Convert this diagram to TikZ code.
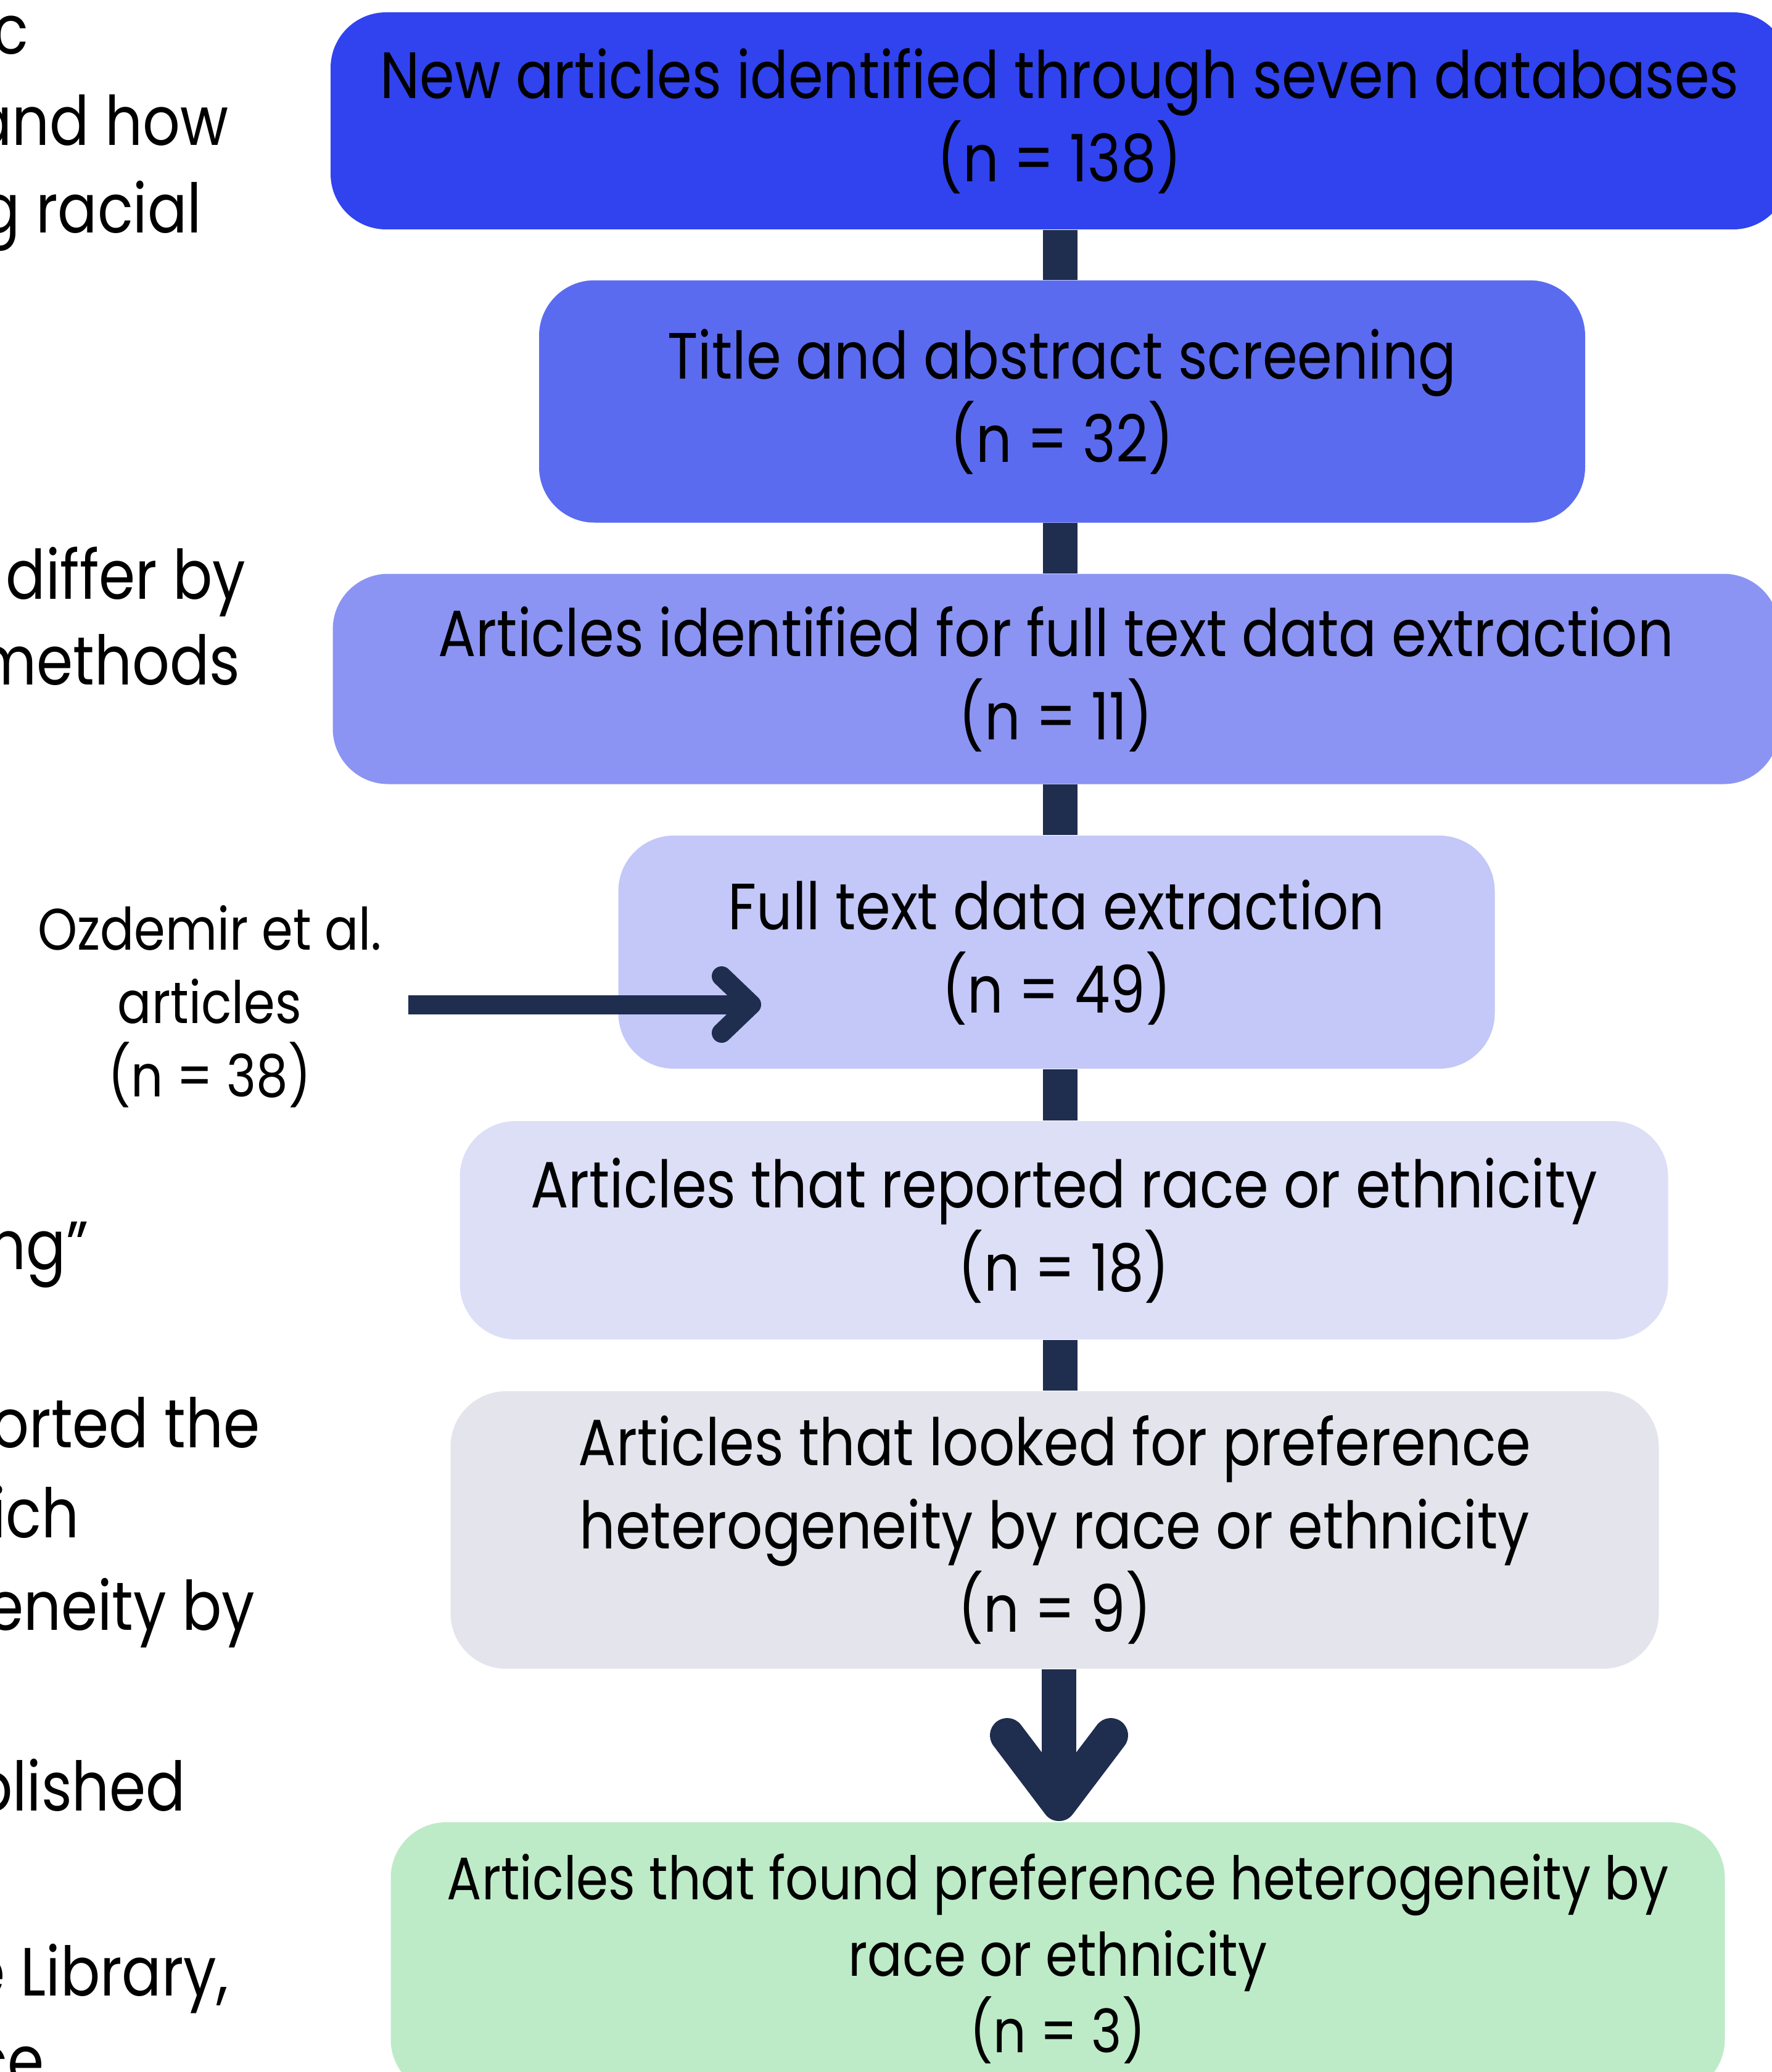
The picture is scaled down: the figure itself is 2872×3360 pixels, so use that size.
\documentclass[tikz,border=0pt]{standalone}
\usepackage{fontspec}
\setmainfont{Poppins}[FakeStretch=0.86]
\definecolor{cA}{HTML}{3043EF}
\definecolor{cB}{HTML}{5B6BF0}
\definecolor{cC}{HTML}{8B94F3}
\definecolor{cD}{HTML}{C3C8F8}
\definecolor{cE}{HTML}{DDDFF7}
\definecolor{cF}{HTML}{E4E4EC}
\definecolor{cG}{HTML}{BDEBC7}
\definecolor{arr}{HTML}{1F2D4F}
\begin{document}
\begin{tikzpicture}[x=0.1mm,y=-0.1mm,
  box/.style={rectangle, rounded corners=9mm, inner sep=0pt, align=center, text=black,
    font=\fontsize{30.2}{38.4}\selectfont},
  side/.style={anchor=base east, inner sep=0pt, text=black, font=\fontsize{31.5}{40}\selectfont},
  bar/.style={line width=5.6mm, draw=arr},
  thin/.style={line width=3.1mm, draw=arr}]
\useasboundingbox (0,0) rectangle (2872,3360);
\fill[white] (0,0) rectangle (2872,3360);

% left cut-off text
\node[side] (t1) at (47,88) {c};
\node[side] (t2) at (371,236) {and how};
\node[side] (t3) at (328,377) {g racial};
\node[side] (t4) at (399,971) {differ by};
\node[side] (t5) at (390,1110) {methods};
\node[side] (t6) at (144,2058) {ng”};
\node[side] (t7) at (422,2347) {orted the};
\node[side] (t8) at (129,2493) {ich};
\node[side] (t9) at (414,2643) {eneity by};
\node[side] (t10) at (302,2936) {blished};
\node[side] (t11) at (371,3236) {e Library,};
\node[side] (t12) at (72,3380) {ce};

% boxes
\node[box, fill=cA, minimum width=236.4mm, minimum height=35.2mm] (b1) at (1718,196)
  {New articles identified through seven databases\\(n = 138)};
\node[box, fill=cB, minimum width=169.6mm, minimum height=39.3mm] (b2) at (1722,651)
  {Title and abstract screening\\(n = 32)};
\node[box, fill=cC, minimum width=234.5mm, minimum height=34.1mm] (b3) at (1712,1101)
  {Articles identified for full text data extraction\\(n = 11)};
\node[box, fill=cD, minimum width=142.1mm, minimum height=37.8mm] (b4) at (1713,1544)
  {Full text data extraction\\(n = 49)};
\node[box, fill=cE, minimum width=195.9mm, minimum height=35.4mm] (b5) at (1725,1995)
  {Articles that reported race or ethnicity\\(n = 18)};
\node[box, fill=cF, minimum width=195.9mm, minimum height=45.0mm] (b6) at (1710,2481)
  {Articles that looked for preference\\heterogeneity by race or ethnicity\\(n = 9)};
\node[box, fill=cG, minimum width=216.3mm, minimum height=44.2mm,
  font=\fontsize{27.7}{35.3}\selectfont] (b7) at (1715,3176)
  {Articles that found preference heterogeneity by\\race or ethnicity\\(n = 3)};

% side source
\node[align=center, inner sep=0pt, text=black, font=\fontsize{27}{33.8}\selectfont] (oz) at (340,1632)
  {Ozdemir et al.\\articles\\(n = 38)};

% connectors
\coordinate (cx) at (1719,0);
\draw[bar] (b1.south -| cx) -- (b2.north -| cx);
\draw[bar] (b2.south -| cx) -- (b3.north -| cx);
\draw[bar] (b3.south -| cx) -- (b4.north -| cx);
\draw[bar] (b4.south -| cx) -- (b5.north -| cx);
\draw[bar] (b5.south -| cx) -- (b6.north -| cx);
\coordinate (dtip) at (1717,2925);
\draw[bar] (b6.south -| dtip) -- (dtip);
\draw[bar, line cap=round, line join=round]
  ([shift={(-84,-111)}]dtip) -- (dtip) -- ([shift={(84,-111)}]dtip);

\coordinate (hs) at (662,1629);
\coordinate (htip) at (1218,1629);
\draw[thin] (hs) -- (htip);
\draw[thin, line width=3.2mm, line cap=round, line join=round]
  ([shift={(-48,-46)}]htip) -- (htip) -- ([shift={(-48,46)}]htip);
\end{tikzpicture}
\end{document}
